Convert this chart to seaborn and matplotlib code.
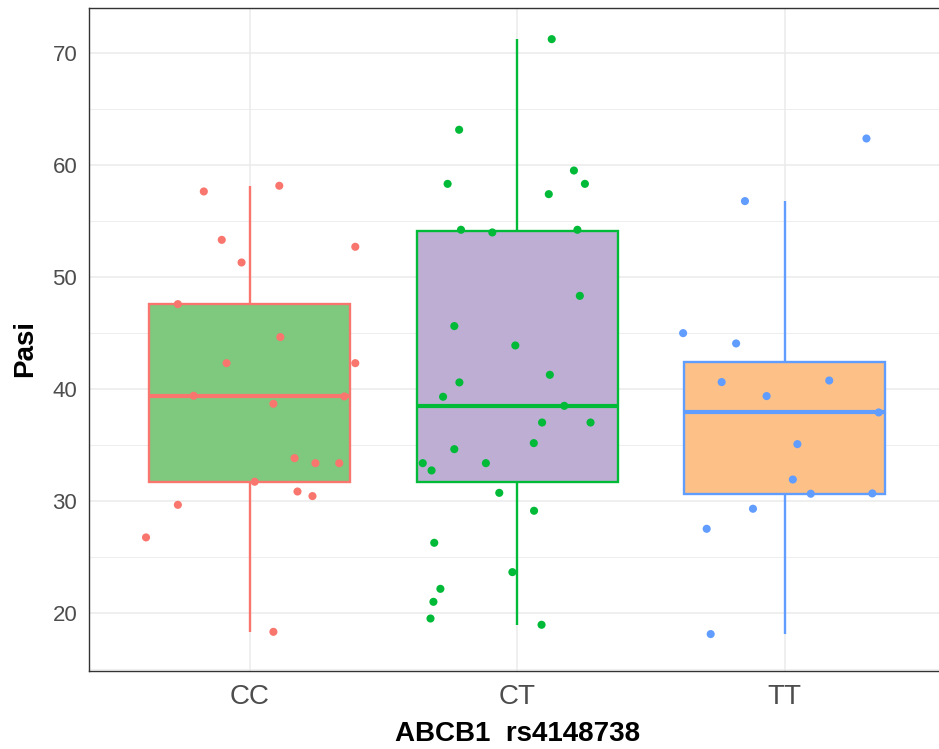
import matplotlib
matplotlib.use("Agg")
import matplotlib.pyplot as plt
import numpy as np
import pandas as pd
import seaborn as sns
from matplotlib.ticker import MultipleLocator

# Genotype groups and their colours (box fill / outline + points)
genotypes = ["CC", "CT", "TT"]
fill_colors = ["#7FC97F", "#BEAED4", "#FDC086"]
line_colors = ["#F8766D", "#00BA38", "#619CFF"]

# PASI scores per genotype
pasi_cc = [57.62, 58.13, 53.30, 51.28, 52.68, 47.56, 44.62, 42.29, 42.29, 39.38,
           39.32, 38.66, 33.81, 33.36, 33.36, 31.70, 30.83, 30.42, 29.64, 26.73,
           18.30]
pasi_ct = [71.22, 63.13, 58.30, 59.49, 58.30, 57.38, 54.20, 53.96, 54.20, 48.30,
           45.60, 43.87, 41.25, 40.57, 39.29, 38.48, 36.99, 36.99, 35.15, 34.61,
           33.36, 33.36, 32.71, 30.71, 29.11, 26.25, 23.63, 22.14, 20.98, 19.49,
           18.93]
pasi_tt = [62.35, 56.76, 44.97, 44.05, 40.60, 40.74, 39.35, 37.89, 35.06, 31.90,
           30.63, 30.66, 29.29, 27.50, 18.10]

# Horizontal jitter of each point (in category units)
jitter_cc = [-0.171, 0.111, -0.104, -0.030, 0.395, -0.268, 0.115, -0.086, 0.395, -0.209,
             0.354, 0.089, 0.168, 0.246, 0.335, 0.019, 0.179, 0.235, -0.268, -0.387,
             0.089]
jitter_ct = [0.129, -0.217, -0.260, 0.212, 0.253, 0.118, -0.210, -0.093, 0.225, 0.234,
             -0.235, -0.007, 0.122, -0.216, -0.277, 0.176, 0.093, 0.274, 0.062, -0.235,
             -0.353, -0.117, -0.320, -0.067, 0.063, -0.310, -0.018, -0.287, -0.313, -0.324,
             0.091]
jitter_tt = [0.305, -0.149, -0.380, -0.182, -0.236, 0.166, -0.068, 0.351, 0.047, 0.030,
             0.097, 0.327, -0.119, -0.292, -0.277]

values = [pasi_cc, pasi_ct, pasi_tt]
jitters = [jitter_cc, jitter_ct, jitter_tt]

df = pd.concat(
    [pd.DataFrame({"genotype": g, "Pasi": v, "xpos": i + np.asarray(j)})
     for i, (g, v, j) in enumerate(zip(genotypes, values, jitters))],
    ignore_index=True,
)

sns.set_theme(style="white")
plt.rcParams["font.family"] = ["Liberation Sans", "DejaVu Sans"]

fig = plt.figure(figsize=(9.39, 7.49), dpi=100)
# panel runs slightly past the right edge of the canvas
ax = fig.add_axes([0.0948, 0.1041, 0.9120, 0.8852])

sns.boxplot(
    data=df, x="genotype", y="Pasi", hue="genotype", order=genotypes,
    hue_order=genotypes, palette=fill_colors, saturation=1, width=0.75,
    showfliers=False, showcaps=False, linewidth=1.7, legend=False, ax=ax,
)

# Outline each box in its group colour, with a heavier median line
for cont, col in zip(ax.containers, line_colors):
    for box in cont.boxes:
        box.set_edgecolor(col)
        box.set_linewidth(1.7)
    for ln in cont.whiskers:
        ln.set_color(col)
        ln.set_linewidth(1.7)
    for ln in cont.medians:
        ln.set_color(col)
        ln.set_linewidth(3.0)

sns.scatterplot(
    data=df, x="xpos", y="Pasi", hue="genotype", hue_order=genotypes,
    palette=line_colors, s=34, linewidth=0, legend=False, zorder=4, ax=ax,
)

ax.set_xlim(-0.6, 2.6)
ax.set_ylim(14.8, 74.0)
ax.set_xticks(range(len(genotypes)))
ax.set_xticklabels(genotypes)
ax.yaxis.set_major_locator(MultipleLocator(10))
ax.yaxis.set_minor_locator(MultipleLocator(5))

ax.set_axisbelow(True)
ax.grid(True, which="major", color="#EBEBEB", linewidth=1.1)
ax.grid(True, which="minor", axis="y", color="#EBEBEB", linewidth=0.6)

for sp in ax.spines.values():
    sp.set_visible(True)
    sp.set_color("#333333")
    sp.set_linewidth(1.0)

ax.tick_params(axis="both", which="major", length=4.5, width=1.0, color="#333333",
               labelcolor="#4D4D4D")
ax.tick_params(axis="y", which="major", labelsize=16, pad=4)
ax.tick_params(axis="x", which="major", labelsize=20, pad=5)
ax.tick_params(axis="y", which="minor", length=0)

ax.set_xlabel("ABCB1  rs4148738", fontsize=20, fontweight="bold", color="black", labelpad=8)
ax.set_ylabel("Pasi", fontsize=20, fontweight="bold", color="black")
ax.yaxis.set_label_coords(-0.0596, 0.487)

fig.savefig("out.png", dpi=100)
